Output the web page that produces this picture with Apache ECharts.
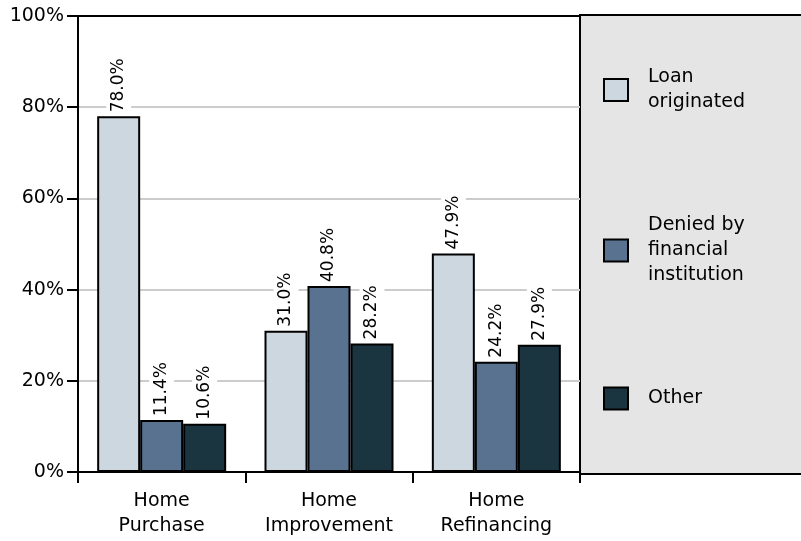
<!DOCTYPE html>
<html>
<head>
<meta charset="utf-8">
<script src="https://cdn.jsdelivr.net/npm/echarts@6/dist/echarts.min.js"></script>
<style>
html,body{margin:0;padding:0;background:#fff;}
#chart{width:801px;height:541px;}
</style>
</head>
<body>
<div id="chart"></div>
<script>
var categories = ['Home\nPurchase', 'Home\nImprovement', 'Home\nRefinancing'];
var seriesNames = ['Loan\noriginated', 'Denied by\nfinancial\ninstitution', 'Other'];
var loanOriginated = [78.0, 31.0, 47.9];
var deniedByInstitution = [11.4, 40.8, 24.2];
var otherOutcome = [10.6, 28.2, 27.9];
var yTicks = [0, 20, 40, 60, 80, 100];
var colors = ['#cdd7df', '#58728f', '#1b3540'];

var FONT = 'DejaVu Sans';
var chart = echarts.init(document.getElementById('chart'), null, {renderer: 'canvas'});

function makeSeries(name, data, color) {
  return {
    name: name,
    type: 'bar',
    data: data,
    barWidth: 43,
    barGap: '0%',
    itemStyle: {color: color, borderColor: '#000', borderWidth: 2},
    label: {
      show: true,
      position: 'top',
      rotate: 90,
      align: 'left',
      verticalAlign: 'middle',
      distance: 3,
      fontFamily: FONT,
      fontSize: 17,
      color: '#000',
      backgroundColor: '#fff',
      padding: [4, 1],
      formatter: function (p) { return p.value.toFixed(1) + '%'; }
    },
    emphasis: {disabled: true},
    animation: false
  };
}

var option = {
  animation: false,
  backgroundColor: '#fff',
  graphic: [{
    type: 'rect',
    z: -10,
    shape: {x: 580, y: 15, width: 240, height: 459},
    style: {fill: '#e5e5e5', stroke: '#000', lineWidth: 2}
  }],
  grid: {
    left: 78, right: 221, top: 16, bottom: 69,
    show: true, borderColor: '#000', borderWidth: 2, backgroundColor: 'transparent',
    containLabel: false
  },
  legend: {
    orient: 'vertical',
    left: 598,
    top: 60,
    icon: 'rect',
    itemWidth: 24,
    itemHeight: 22,
    itemGap: 98,
    selectedMode: false,
    itemStyle: {borderColor: '#000', borderWidth: 2},
    textStyle: {
      fontFamily: FONT,
      fontSize: 19,
      lineHeight: 25,
      color: '#000',
      padding: [0, 0, 0, 15]
    },
    data: seriesNames
  },
  xAxis: {
    type: 'category',
    data: categories,
    axisLine: {lineStyle: {color: '#000', width: 2}},
    axisTick: {show: true, length: 11, lineStyle: {color: '#000', width: 2}},
    axisLabel: {fontFamily: FONT, fontSize: 19, lineHeight: 25, color: '#000', margin: 17}
  },
  yAxis: {
    type: 'value',
    min: 0, max: 100, interval: 20,
    axisLine: {show: true, lineStyle: {color: '#000', width: 2}},
    axisTick: {show: true, length: 11, lineStyle: {color: '#000', width: 2}},
    splitLine: {show: true, lineStyle: {color: ['#cccccc', '#cccccc', '#cccccc', '#cccccc', '#cccccc', '#000000'], width: 2}},
    axisLabel: {
      fontFamily: FONT, fontSize: 19, color: '#000', margin: 14,
      formatter: function (v) { return yTicks.indexOf(v) >= 0 ? v + '%' : ''; }
    }
  },
  series: [
    makeSeries(seriesNames[0], loanOriginated, colors[0]),
    makeSeries(seriesNames[1], deniedByInstitution, colors[1]),
    makeSeries(seriesNames[2], otherOutcome, colors[2])
  ]
};
chart.setOption(option);
</script>
</body>
</html>
